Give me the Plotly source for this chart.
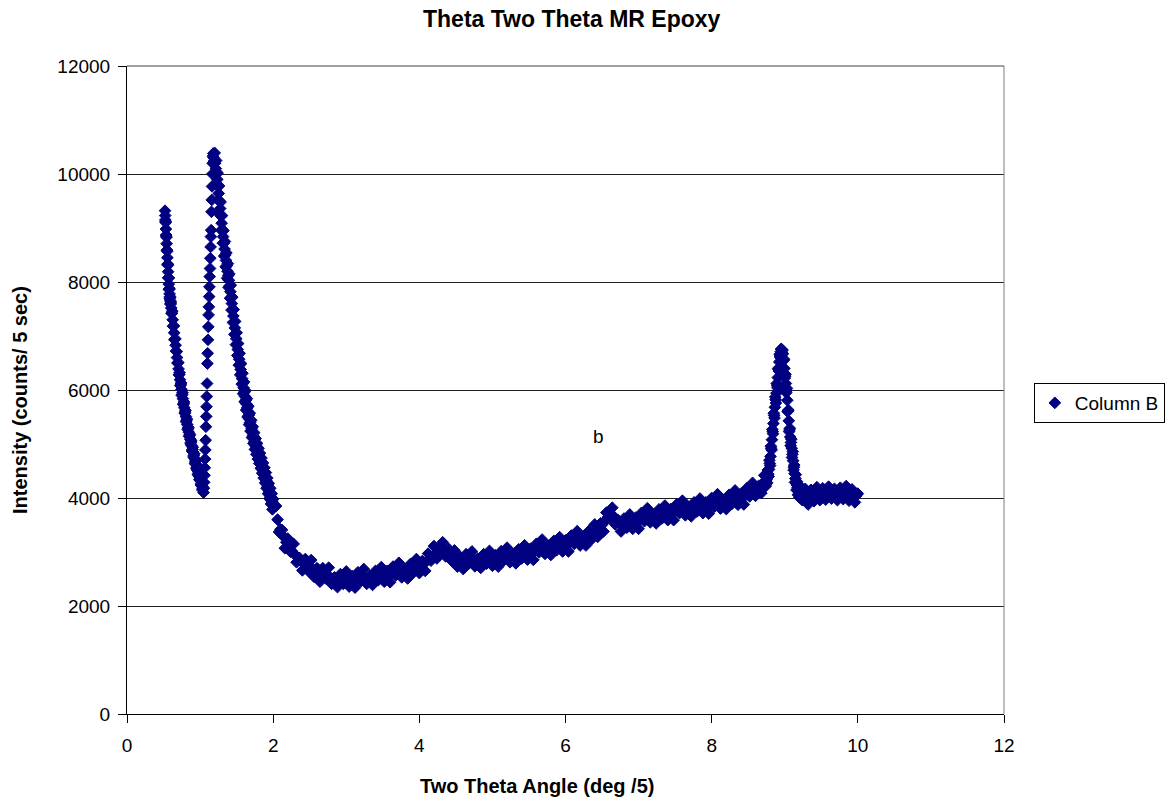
import plotly.graph_objects as go

# ---- data (two-theta angle, intensity) ----
# scattered readings across the width of the noisy band
left_branch = [
    (0.520, 9320), (0.525, 9150), (0.530, 9100), (0.535, 8870), (0.540, 8830),
    (0.545, 8590), (0.550, 8570), (0.555, 8330), (0.560, 8310), (0.565, 8080),
    (0.570, 8070), (0.575, 7860), (0.580, 7880), (0.585, 7690), (0.590, 7730),
    (0.595, 7590), (0.600, 7630),
    (0.61, 7420), (0.62, 7460), (0.63, 7180), (0.64, 7190), (0.65, 6930),
    (0.66, 6950), (0.67, 6720), (0.68, 6710), (0.69, 6500), (0.70, 6510),
    (0.71, 6280), (0.72, 6320), (0.73, 6080), (0.74, 6130), (0.75, 5900),
    (0.76, 5950), (0.77, 5730), (0.78, 5780), (0.79, 5570), (0.80, 5620),
    (0.81, 5410), (0.82, 5460), (0.83, 5270), (0.84, 5310), (0.85, 5140),
    (0.86, 5180), (0.87, 5000), (0.88, 5060), (0.89, 4870), (0.90, 4940),
    (0.91, 4760), (0.92, 4820), (0.93, 4640), (0.94, 4700), (0.95, 4540),
    (0.96, 4600), (0.97, 4430), (0.98, 4500), (0.99, 4340), (1.00, 4410),
    (1.01, 4240), (1.02, 4310), (1.03, 4150), (1.04, 4200),
]

left_branch_mid = [
    (0.5225, 9230), (0.5275, 9120), (0.5325, 8980), (0.5375, 8850), (0.5425, 8710),
    (0.5475, 8590), (0.5525, 8450), (0.5575, 8330), (0.5625, 8190), (0.5675, 8080),
    (0.5725, 7960), (0.5775, 7870), (0.5825, 7780), (0.5875, 7710), (0.5925, 7650),
    (0.5975, 7600), (0.605, 7520), (0.615, 7420), (0.625, 7300), (0.635, 7180),
    (0.645, 7060), (0.655, 6940), (0.665, 6830), (0.675, 6720), (0.685, 6600),
    (0.695, 6500), (0.705, 6390), (0.715, 6290), (0.725, 6190), (0.735, 6100),
    (0.745, 6010), (0.755, 5920), (0.765, 5840), (0.775, 5750), (0.785, 5670),
    (0.795, 5590), (0.805, 5510), (0.815, 5440), (0.825, 5360), (0.835, 5290),
    (0.845, 5220), (0.855, 5160), (0.865, 5090), (0.875, 5030), (0.885, 4970),
    (0.895, 4900), (0.905, 4850), (0.915, 4790), (0.925, 4730), (0.935, 4670),
    (0.945, 4620), (0.955, 4570), (0.965, 4510), (0.975, 4460), (0.985, 4410),
    (0.995, 4370), (1.005, 4320), (1.015, 4270), (1.025, 4220), (1.035, 4170),
]

first_peak_rise = [
    (1.048, 4100), (1.052, 4180), (1.056, 4290), (1.060, 4420), (1.064, 4560),
    (1.068, 4720), (1.072, 4890), (1.076, 5070), (1.080, 5320), (1.084, 5510),
    (1.088, 5690), (1.092, 5880), (1.096, 6120), (1.100, 6490), (1.104, 6680),
    (1.108, 6930), (1.112, 7170), (1.116, 7390), (1.120, 7540), (1.124, 7730),
    (1.128, 7910), (1.132, 8100), (1.136, 8250), (1.140, 8440), (1.144, 8650),
    (1.148, 8840), (1.152, 8960), (1.156, 9300), (1.160, 9520), (1.164, 9770),
    (1.168, 10000), (1.172, 10200), (1.176, 10330),
]

first_peak_fall = [
    (1.18, 10380), (1.19, 10180), (1.20, 10390), (1.21, 10000), (1.22, 10250),
    (1.23, 9800), (1.24, 10020), (1.25, 9520), (1.26, 9780), (1.27, 9250),
    (1.28, 9480), (1.29, 8960), (1.30, 9230), (1.31, 8720), (1.32, 8950),
    (1.33, 8480), (1.34, 8750), (1.35, 8280), (1.36, 8540), (1.37, 8070),
    (1.38, 8340), (1.39, 7900), (1.40, 8150), (1.41, 7700), (1.42, 7940),
    (1.43, 7480), (1.44, 7720), (1.45, 7250), (1.46, 7490), (1.47, 7030),
    (1.48, 7270), (1.49, 6840), (1.50, 7060), (1.51, 6640), (1.52, 6860),
    (1.53, 6460), (1.54, 6680), (1.55, 6280), (1.56, 6490), (1.57, 6110),
    (1.58, 6310), (1.59, 5930), (1.60, 6150), (1.61, 5780), (1.62, 5990),
    (1.63, 5630), (1.64, 5840), (1.65, 5500), (1.66, 5700), (1.67, 5360),
    (1.68, 5570), (1.69, 5240), (1.70, 5440), (1.71, 5120), (1.72, 5320),
    (1.73, 5010), (1.74, 5210), (1.75, 4900), (1.76, 5100), (1.77, 4810),
    (1.78, 5010), (1.79, 4720), (1.80, 4920), (1.81, 4640), (1.82, 4830),
    (1.83, 4550), (1.84, 4740), (1.85, 4460), (1.86, 4650), (1.87, 4370),
    (1.88, 4560), (1.89, 4280), (1.90, 4470), (1.91, 4180), (1.92, 4370),
    (1.93, 4080), (1.94, 4270), (1.95, 3990), (1.96, 4180), (1.97, 3890),
    (1.98, 4080), (1.99, 3790), (2.00, 3980),
]

first_peak_fall_mid = [
    (1.185, 10300), (1.195, 10250), (1.205, 10200), (1.215, 10100), (1.225, 10000),
    (1.235, 9900), (1.245, 9780), (1.255, 9640), (1.265, 9500), (1.275, 9360),
    (1.285, 9220), (1.295, 9090), (1.305, 8970), (1.315, 8840), (1.325, 8720),
    (1.335, 8610), (1.345, 8500), (1.355, 8400), (1.365, 8300), (1.375, 8200),
    (1.385, 8120), (1.395, 8030), (1.405, 7930), (1.415, 7820), (1.425, 7700),
    (1.435, 7600), (1.445, 7480), (1.455, 7370), (1.465, 7260), (1.475, 7150),
    (1.485, 7050), (1.495, 6950), (1.505, 6850), (1.515, 6750), (1.525, 6660),
    (1.535, 6570), (1.545, 6470), (1.555, 6380), (1.565, 6300), (1.575, 6210),
    (1.585, 6120), (1.595, 6040), (1.605, 5960), (1.615, 5880), (1.625, 5810),
    (1.635, 5740), (1.645, 5670), (1.655, 5600), (1.665, 5530), (1.675, 5460),
    (1.685, 5400), (1.695, 5340), (1.705, 5280), (1.715, 5220), (1.725, 5160),
    (1.735, 5110), (1.745, 5050), (1.755, 5000), (1.765, 4950), (1.775, 4910),
    (1.785, 4860), (1.795, 4820), (1.805, 4780), (1.815, 4730), (1.825, 4690),
    (1.835, 4640), (1.845, 4600), (1.855, 4550), (1.865, 4510), (1.875, 4460),
    (1.885, 4420), (1.895, 4370), (1.905, 4320), (1.915, 4270), (1.925, 4220),
    (1.935, 4170), (1.945, 4130), (1.955, 4080), (1.965, 4030), (1.975, 3980),
    (1.985, 3930), (1.995, 3880),
]

mid_scan = [
    (2.04, 3850), (2.08, 3370), (2.12, 3410), (2.16, 3070), (2.20, 3250),
    (2.24, 3000), (2.28, 3150), (2.32, 2810), (2.36, 2890), (2.40, 2660),
    (2.44, 2870), (2.48, 2650), (2.52, 2850), (2.56, 2540), (2.60, 2700),
    (2.64, 2450), (2.68, 2700), (2.72, 2510), (2.76, 2710), (2.80, 2410),
    (2.84, 2530), (2.88, 2350), (2.92, 2590), (2.96, 2410), (3.00, 2640),
    (3.04, 2360), (3.08, 2555), (3.12, 2340), (3.16, 2625), (3.20, 2460),
    (3.24, 2685), (3.28, 2410), (3.32, 2560), (3.36, 2390), (3.40, 2650),
    (3.44, 2480), (3.48, 2720), (3.52, 2450), (3.56, 2650), (3.60, 2440),
    (3.64, 2730), (3.68, 2570), (3.72, 2800), (3.76, 2530), (3.80, 2680),
    (3.84, 2510), (3.88, 2780), (3.92, 2620), (3.96, 2870), (4.00, 2610),
    (4.04, 2830), (4.08, 2650), (4.12, 2970), (4.16, 2840), (4.20, 3110),
    (4.24, 2880), (4.28, 3080), (4.32, 3180), (4.36, 2920), (4.40, 3060),
    (4.44, 2840), (4.48, 3030), (4.52, 2730), (4.56, 2910), (4.60, 2685),
    (4.64, 2960), (4.68, 2790), (4.72, 3010), (4.76, 2735), (4.80, 2880),
    (4.84, 2705), (4.88, 2960), (4.92, 2785), (4.96, 3020), (5.00, 2745),
    (5.04, 2940), (5.08, 2730), (5.12, 3015), (5.16, 2850), (5.20, 3080),
    (5.24, 2810), (5.28, 2960), (5.32, 2790), (5.36, 3050), (5.40, 2880),
    (5.44, 3125), (5.48, 2860), (5.52, 3060), (5.56, 2855), (5.60, 3150),
    (5.64, 2995), (5.68, 3230), (5.72, 2965), (5.76, 3115), (5.80, 2945),
    (5.84, 3205), (5.88, 3035), (5.92, 3275), (5.96, 3010), (6.00, 3215),
    (6.04, 3010), (6.08, 3305), (6.12, 3150), (6.16, 3385), (6.20, 3120),
    (6.24, 3280), (6.28, 3120), (6.32, 3390), (6.36, 3240), (6.40, 3510),
    (6.44, 3280), (6.48, 3530), (6.52, 3380), (6.56, 3730), (6.60, 3630),
    (6.64, 3820), (6.68, 3510), (6.72, 3590), (6.76, 3380), (6.80, 3620),
    (6.84, 3450), (6.88, 3695), (6.92, 3430), (6.96, 3635), (7.00, 3430),
    (7.04, 3725), (7.08, 3570), (7.12, 3810), (7.16, 3550), (7.20, 3700),
    (7.24, 3530), (7.28, 3790), (7.32, 3620), (7.36, 3860), (7.40, 3590),
    (7.44, 3795), (7.48, 3590), (7.52, 3880), (7.56, 3720), (7.60, 3950),
    (7.64, 3680), (7.68, 3830), (7.72, 3660), (7.76, 3920), (7.80, 3750),
    (7.84, 3990), (7.88, 3720), (7.92, 3920), (7.96, 3710), (8.00, 4000),
    (8.04, 3840), (8.08, 4070), (8.12, 3805), (8.16, 3960), (8.20, 3795),
    (8.24, 4060), (8.28, 3895), (8.32, 4140), (8.36, 3875), (8.40, 4080),
    (8.44, 3880), (8.48, 4180), (8.52, 4030), (8.56, 4280), (8.60, 4040),
    (8.64, 4220), (8.68, 4090), (8.72, 4420),
]

mid_scan_mid = [
    (2.06, 3600), (2.10, 3420), (2.14, 3290), (2.18, 3180), (2.22, 3090),
    (2.26, 3010), (2.30, 2950), (2.34, 2890), (2.38, 2830), (2.42, 2790),
    (2.46, 2750), (2.50, 2710), (2.54, 2690), (2.58, 2650), (2.62, 2620),
    (2.66, 2600), (2.70, 2570), (2.74, 2550), (2.78, 2530), (2.82, 2510),
    (2.86, 2500), (2.90, 2500), (2.94, 2490), (2.98, 2490), (3.02, 2490),
    (3.06, 2490), (3.10, 2500), (3.14, 2500), (3.18, 2510), (3.22, 2510),
    (3.26, 2520), (3.30, 2525), (3.34, 2535), (3.38, 2545), (3.42, 2555),
    (3.46, 2565), (3.50, 2575), (3.54, 2585), (3.58, 2595), (3.62, 2605),
    (3.66, 2615), (3.70, 2625), (3.74, 2635), (3.78, 2645), (3.82, 2655),
    (3.86, 2670), (3.90, 2690), (3.94, 2710), (3.98, 2730), (4.02, 2755),
    (4.06, 2790), (4.10, 2830), (4.14, 2870), (4.18, 2915), (4.22, 2965),
    (4.26, 3020), (4.30, 3070), (4.34, 3050), (4.38, 2990), (4.42, 2940),
    (4.46, 2900), (4.50, 2870), (4.54, 2855), (4.58, 2848), (4.62, 2842),
    (4.66, 2840), (4.70, 2840), (4.74, 2842), (4.78, 2848), (4.82, 2852),
    (4.86, 2858), (4.90, 2862), (4.94, 2868), (4.98, 2872), (5.02, 2878),
    (5.06, 2885), (5.10, 2892), (5.14, 2898), (5.18, 2905), (5.22, 2915),
    (5.26, 2925), (5.30, 2935), (5.34, 2945), (5.38, 2955), (5.42, 2968),
    (5.46, 2982), (5.50, 2995), (5.54, 3008), (5.58, 3022), (5.62, 3038),
    (5.66, 3052), (5.70, 3068), (5.74, 3080), (5.78, 3090), (5.82, 3100),
    (5.86, 3110), (5.90, 3120), (5.94, 3132), (5.98, 3148), (6.02, 3162),
    (6.06, 3178), (6.10, 3192), (6.14, 3208), (6.18, 3222), (6.22, 3240),
    (6.26, 3260), (6.30, 3280), (6.34, 3305), (6.38, 3340), (6.42, 3385),
    (6.46, 3440), (6.50, 3505), (6.54, 3575), (6.58, 3645), (6.62, 3690),
    (6.66, 3660), (6.70, 3590), (6.74, 3545), (6.78, 3525), (6.82, 3525),
    (6.86, 3538), (6.90, 3552), (6.94, 3568), (6.98, 3582), (7.02, 3598),
    (7.06, 3612), (7.10, 3630), (7.14, 3650), (7.18, 3665), (7.22, 3675),
    (7.26, 3685), (7.30, 3695), (7.34, 3705), (7.38, 3715), (7.42, 3728),
    (7.46, 3742), (7.50, 3755), (7.54, 3765), (7.58, 3775), (7.62, 3785),
    (7.66, 3795), (7.70, 3805), (7.74, 3815), (7.78, 3825), (7.82, 3835),
    (7.86, 3845), (7.90, 3855), (7.94, 3865), (7.98, 3875), (8.02, 3885),
    (8.06, 3895), (8.10, 3908), (8.14, 3922), (8.18, 3938), (8.22, 3952),
    (8.26, 3968), (8.30, 3982), (8.34, 3998), (8.38, 4012), (8.42, 4030),
    (8.46, 4050), (8.50, 4070), (8.54, 4095), (8.58, 4130), (8.62, 4170),
    (8.66, 4215), (8.70, 4280),
]

second_peak = [
    (8.74, 4220), (8.75, 4440), (8.76, 4280), (8.77, 4520), (8.78, 4400),
    (8.79, 4700), (8.80, 4600), (8.81, 4960), (8.82, 4890), (8.83, 5270),
    (8.84, 5190), (8.85, 5570), (8.86, 5480), (8.87, 5870), (8.88, 5760),
    (8.89, 6120), (8.90, 6040), (8.91, 6400), (8.92, 6350), (8.93, 6660),
    (8.94, 6600), (8.95, 6760), (8.96, 6700), (8.97, 6740), (8.98, 6540),
    (8.99, 6570), (9.00, 6220), (9.01, 6290), (9.02, 5950), (9.03, 6030),
    (9.04, 5600), (9.05, 5630), (9.06, 5230), (9.07, 5290), (9.08, 4970),
    (9.09, 5090), (9.10, 4750), (9.11, 4860), (9.12, 4520), (9.13, 4610),
    (9.14, 4290), (9.15, 4430), (9.16, 4150), (9.17, 4300), (9.18, 4060),
    (9.19, 4240), (9.20, 4010), (9.22, 4200), (9.24, 3960),
]

second_peak_mid = [
    (8.745, 4330), (8.755, 4350), (8.765, 4380), (8.775, 4440), (8.785, 4530),
    (8.795, 4640), (8.805, 4770), (8.815, 4920), (8.825, 5080), (8.835, 5230),
    (8.845, 5380), (8.855, 5530), (8.865, 5680), (8.875, 5820), (8.885, 5940),
    (8.895, 6080), (8.905, 6230), (8.915, 6380), (8.925, 6520), (8.935, 6630),
    (8.945, 6710), (8.955, 6750), (8.965, 6740), (8.975, 6670), (8.985, 6550),
    (8.995, 6400), (9.005, 6250), (9.015, 6120), (9.025, 5990), (9.035, 5810),
    (9.045, 5610), (9.055, 5430), (9.065, 5260), (9.075, 5130), (9.085, 5030),
    (9.095, 4920), (9.105, 4810), (9.115, 4690), (9.125, 4570), (9.135, 4450),
    (9.145, 4360), (9.155, 4290), (9.165, 4240), (9.175, 4190), (9.185, 4160),
    (9.195, 4130), (9.21, 4110), (9.23, 4095),
]

tail_scan = [
    (9.28, 4170), (9.32, 3880), (9.36, 4150), (9.40, 3940), (9.44, 4200),
    (9.48, 3960), (9.52, 4180), (9.56, 3970), (9.60, 4210), (9.64, 3990),
    (9.68, 4170), (9.72, 3960), (9.76, 4190), (9.80, 3980), (9.84, 4220),
    (9.88, 3950), (9.92, 4160), (9.96, 3920), (10.00, 4080),
]

tail_scan_mid = [
    (9.26, 4080), (9.30, 3990), (9.34, 4020), (9.38, 4050), (9.42, 4070),
    (9.46, 4080), (9.50, 4080), (9.54, 4080), (9.58, 4080), (9.62, 4085),
    (9.66, 4080), (9.70, 4075), (9.74, 4080), (9.78, 4085), (9.82, 4080),
    (9.86, 4070), (9.90, 4065), (9.94, 4055), (9.98, 4045),
]

series_name = "Column B"
chart_title = "Theta Two Theta MR Epoxy"
x_title = "Two Theta Angle (deg /5)"
y_title = "Intensity (counts/ 5 sec)"
x_ticks = [0, 2, 4, 6, 8, 10, 12]
y_ticks = [0, 2000, 4000, 6000, 8000, 10000, 12000]
note_text = "b"
note_pos = (6.45, 5130)

points = sorted(
    left_branch + left_branch_mid + first_peak_rise + first_peak_fall
    + first_peak_fall_mid + mid_scan + mid_scan_mid + second_peak
    + second_peak_mid + tail_scan + tail_scan_mid
)
two_theta = [p[0] for p in points]
intensity = [p[1] for p in points]

NAVY = "#000080"
FONT = "Liberation Sans, Arial, Helvetica, sans-serif"

fig = go.Figure()
fig.add_trace(go.Scatter(
    x=two_theta, y=intensity, mode="markers", name=series_name,
    marker=dict(symbol="diamond", size=9, color=NAVY, line=dict(color=NAVY, width=1)),
))

fig.update_layout(
    width=1169, height=806,
    margin=dict(l=127, r=165, t=66, b=92, pad=0, autoexpand=False),
    paper_bgcolor="white", plot_bgcolor="white",
    font=dict(family=FONT, size=19, color="black"),
    showlegend=True,
    legend=dict(x=1.034, y=0.5108, xanchor="left", yanchor="top",
                bordercolor="black", borderwidth=1, bgcolor="white",
                font=dict(family=FONT, size=19, color="black"),
                itemwidth=30, tracegroupgap=0),
    xaxis=dict(range=[0, 12], tickvals=x_ticks, ticktext=[str(v) for v in x_ticks],
               showgrid=False, zeroline=False, showline=True, linecolor="black", linewidth=1,
               ticks="outside", ticklen=8, tickcolor="black", tickwidth=1,
               ticklabelstandoff=6, tickfont=dict(size=19), automargin=False),
    yaxis=dict(range=[0, 12000], tickvals=y_ticks, ticktext=[str(v) for v in y_ticks],
               showgrid=True, gridcolor="#202020", gridwidth=1, zeroline=False,
               showline=True, linecolor="black", linewidth=1,
               ticks="outside", ticklen=8, tickcolor="black", tickwidth=1,
               ticklabelstandoff=4, tickfont=dict(size=19), automargin=False),
    shapes=[
        dict(type="line", xref="paper", yref="paper", x0=1, x1=1, y0=0, y1=1,
             line=dict(color="#808080", width=1)),
        dict(type="line", xref="paper", yref="paper", x0=0, x1=1, y0=1, y1=1,
             line=dict(color="#404040", width=1)),
    ],
    annotations=[
        dict(text="<b>" + chart_title + "</b>", xref="paper", yref="paper",
             x=0.5074, y=1.0733, xanchor="center", yanchor="middle", showarrow=False,
             font=dict(family=FONT, size=23, color="black")),
        dict(text="<b>" + x_title + "</b>", xref="paper", yref="paper",
             x=0.4672, y=-0.1111, xanchor="center", yanchor="middle", showarrow=False,
             font=dict(family=FONT, size=20, color="black")),
        dict(text="<b>" + y_title + "</b>", xref="paper", yref="paper",
             x=-0.122, y=0.4846, xanchor="center", yanchor="middle", showarrow=False,
             textangle=-90, font=dict(family=FONT, size=20, color="black")),
        dict(text=note_text, xref="x", yref="y", x=note_pos[0], y=note_pos[1],
             xanchor="center", yanchor="middle", showarrow=False,
             font=dict(family=FONT, size=19, color="black")),
    ],
)

fig.write_html("out.html")
